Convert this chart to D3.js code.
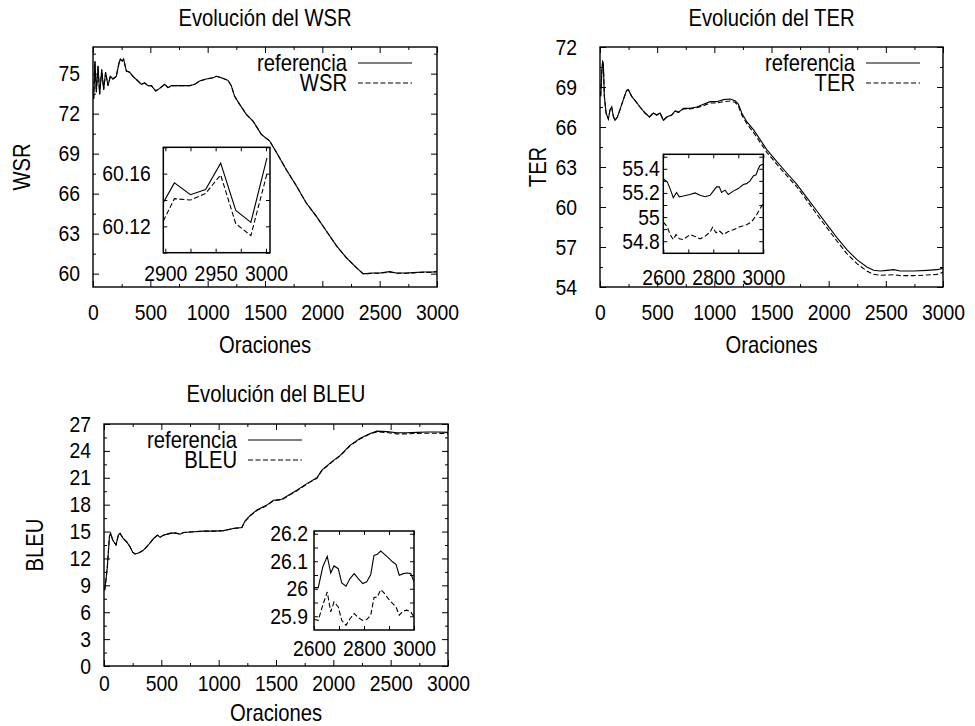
<!DOCTYPE html>
<html>
<head>
<meta charset="utf-8">
<script src="https://cdn.jsdelivr.net/npm/d3@7"></script>
<style>
  html, body { margin: 0; padding: 0; background: #fff; }
  svg { display: block; }
</style>
</head>
<body>
<svg id="chart" width="975" height="726"></svg>
<script>
// ----------------------------
// Data
// ----------------------------
const xTicksMain = [0, 500, 1000, 1500, 2000, 2500, 3000];
const xMinorMain = [250, 750, 1250, 1750, 2250, 2750];

// WSR
const wsrX = [6,17,29,44,58,76,93,110,131,151,174,203,227,238,256,267,291,320,349,392,422,451,480,509,547,581,625,654,683,727,785,843,887,930,988,1047,1076,1119,1177,1206,1235,1279,1337,1395,1468,1541,1599,1686,1773,1860,1948,2035,2122,2209,2297,2355,2384,2442,2500,2587,2645,2733,2791,2878,2965,3000];
const wsrRef = [73.1,75.95,73.6,75.6,73.45,75.3,73.8,75.1,74.1,74.8,74.6,74.8,75.8,76.1,75.95,76.1,75.2,75.1,74.8,74.45,74.2,74.3,74.1,74.1,73.7,73.9,74.2,73.95,74.1,74.1,74.1,74.1,74.2,74.45,74.6,74.7,74.8,74.7,74.5,74.1,73.3,72.7,71.95,71.45,70.45,69.95,69.1,67.8,66.6,65.3,64.3,63.2,62.1,61.2,60.45,60.0,60.0,60.05,60.05,60.15,60.05,60.05,60.08,60.12,60.12,60.17];
const wsrSys = [73.1,75.9,73.6,75.55,73.45,75.3,73.8,75.1,74.1,74.8,74.6,74.8,75.8,76.05,75.95,76.05,75.2,75.1,74.8,74.45,74.2,74.3,74.1,74.1,73.7,73.9,74.2,73.95,74.1,74.1,74.1,74.1,74.2,74.45,74.6,74.7,74.8,74.7,74.5,74.1,73.3,72.7,71.95,71.45,70.45,69.95,69.1,67.8,66.6,65.3,64.3,63.2,62.1,61.2,60.45,60.0,60.0,60.03,60.03,60.13,60.03,60.03,60.06,60.1,60.1,60.15];
const wsrInsetX = [2898,2909,2925,2940,2955,2970,2985,3001];
const wsrInsetRef = [60.138,60.153,60.144,60.148,60.168,60.132,60.123,60.172];
const wsrInsetSys = [60.124,60.141,60.140,60.145,60.159,60.122,60.113,60.160];

// TER
const terX = [6,17,23,29,38,53,73,88,102,117,131,152,175,204,233,248,277,306,350,394,432,467,496,525,554,584,627,657,686,730,788,846,905,963,1021,1080,1138,1182,1211,1240,1284,1342,1401,1459,1547,1634,1722,1809,1897,1984,2072,2159,2247,2334,2393,2451,2510,2568,2626,2743,2860,2947,3000];
const terRef = [68.3,70.3,70.9,70.8,68.3,67.05,66.6,67.3,67.5,66.8,66.5,66.75,67.3,68.05,68.75,68.8,68.3,68.0,67.5,67.05,66.75,67.05,66.9,67.05,66.5,66.75,66.9,67.2,67.1,67.4,67.4,67.5,67.7,67.9,67.9,68.05,68.1,67.97,67.7,67.05,66.4,65.8,65.05,64.3,63.4,62.55,61.7,60.7,59.7,58.7,57.7,56.8,56.05,55.5,55.25,55.2,55.25,55.3,55.2,55.2,55.25,55.3,55.4];
const terSys = [68.3,70.3,70.9,70.8,68.3,67.05,66.6,67.3,67.5,66.8,66.5,66.75,67.3,68.05,68.75,68.8,68.3,68.0,67.5,67.05,66.75,67.05,66.9,67.05,66.5,66.75,66.9,67.2,67.1,67.35,67.35,67.45,67.6,67.8,67.8,67.9,67.95,67.85,67.55,66.9,66.25,65.6,64.85,64.1,63.2,62.35,61.5,60.5,59.45,58.45,57.45,56.5,55.75,55.2,54.95,54.88,54.9,54.92,54.85,54.85,54.9,54.95,55.1];
const terInsetRefX = [2600,2616,2627,2640,2653,2664,2680,2707,2727,2747,2767,2787,2800,2813,2824,2833,2847,2860,2880,2900,2920,2933,2947,2960,2971,2980,2987,3000];
const terInsetRef = [55.318,55.29,55.236,55.16,55.204,55.168,55.174,55.187,55.2,55.18,55.168,55.18,55.215,55.25,55.25,55.204,55.223,55.187,55.215,55.236,55.27,55.277,55.3,55.34,55.35,55.4,55.427,55.44];
const terInsetSysX = [2600,2616,2627,2640,2651,2664,2680,2707,2727,2747,2767,2787,2797,2811,2824,2840,2860,2880,2907,2933,2953,2973,2987,3000];
const terInsetSys = [54.958,54.92,54.855,54.814,54.855,54.82,54.814,54.855,54.84,54.82,54.84,54.876,54.915,54.87,54.887,54.855,54.88,54.895,54.92,54.936,54.96,55.018,55.07,55.11];

// BLEU
const bleuX = [6,17,29,47,58,76,105,125,140,169,198,227,250,271,300,343,387,431,466,489,518,576,620,663,693,780,867,955,1042,1129,1202,1231,1275,1333,1420,1478,1551,1609,1682,1769,1857,1900,1988,2060,2148,2235,2322,2380,2468,2555,2642,2730,2817,2904,3000];
const bleuRef = [8.45,9.6,11.05,14.4,14.8,14.05,13.5,14.6,14.8,14.2,13.85,13.3,12.7,12.5,12.6,12.9,13.5,14.2,14.6,14.35,14.6,14.8,14.85,14.7,14.9,14.97,15.05,15.05,15.1,15.35,15.45,16.2,16.8,17.4,17.95,18.5,18.6,19.05,19.6,20.35,21.0,21.85,22.8,23.5,24.65,25.4,25.95,26.2,26.15,26.03,26.03,26.07,26.1,26.1,26.07];
const bleuSys = [8.45,9.6,11.05,14.4,14.8,14.05,13.5,14.6,14.8,14.2,13.85,13.3,12.7,12.5,12.6,12.9,13.5,14.2,14.6,14.35,14.6,14.8,14.85,14.7,14.9,14.97,15.05,15.05,15.1,15.35,15.45,16.15,16.75,17.35,17.9,18.45,18.55,19.0,19.55,20.3,20.95,21.8,22.75,23.45,24.6,25.35,25.9,26.12,26.05,25.9,25.9,25.95,25.97,25.96,25.92];
const bleuInsetX = [2600,2617,2635,2653,2667,2680,2697,2711,2728,2744,2761,2777,2795,2811,2827,2840,2853,2867,2880,2897,2915,2928,2941,2957,2971,2987,3000];
const bleuInsetRef = [26.004,26.004,26.079,26.118,26.057,26.083,26.073,26.021,26.009,26.037,26.055,26.037,26.019,26.025,26.052,26.121,26.125,26.137,26.127,26.113,26.097,26.089,26.049,26.055,26.057,26.055,26.025];
const bleuInsetSys = [25.888,25.885,25.94,25.988,25.916,25.952,25.934,25.885,25.867,25.891,25.91,25.895,25.885,25.888,25.904,25.968,25.97,25.997,25.985,25.964,25.946,25.934,25.904,25.919,25.922,25.916,25.898];

// ----------------------------
// Style
// ----------------------------
const FONT = "'Liberation Sans', Arial, Helvetica, sans-serif";
const SX = 0.88;        // text in the reference is a bit condensed
const TICK_FS = 22;
const LAB_FS = 23;
const DASH = "5,2.5";

const svg = d3.select("#chart");
svg.append("rect").attr("width", 975).attr("height", 726).attr("fill", "#fff");

let clipId = 0;

function label(x, y, s, anchor, rot) {
  svg.append("text")
    .attr("transform", `translate(${x},${y})${rot ? " rotate(-90)" : ""} scale(${SX},1)`)
    .attr("text-anchor", anchor)
    .attr("dy", "0.36em")
    .attr("font-family", FONT)
    .attr("font-size", LAB_FS)
    .attr("fill", "#000")
    .text(s);
}

function styleAxis(sel, pad, left) {
  sel.select(".domain").remove();
  sel.attr("font-family", FONT).attr("font-size", TICK_FS);
  sel.selectAll("line").attr("stroke", "#000").attr("stroke-width", 1);
  sel.selectAll("text").attr("fill", "#000").attr("transform", `scale(${SX},1)`);
  if (left) sel.selectAll("text").attr("x", -pad / SX);
}

// ticks pointing inward on all four sides, labels on bottom and left
function frameTicks(g, x, y, w, h, t) {
  const fmtX = d => String(d);
  const fmtY = t.fmtY || (d => String(d));
  g.append("g").attr("transform", `translate(0,${h})`)
    .call(d3.axisBottom(x).tickValues(t.xt).tickSizeInner(-t.len).tickSizeOuter(0).tickPadding(t.xpad).tickFormat(fmtX))
    .call(s => styleAxis(s, t.xpad, false));
  g.append("g").attr("transform", `translate(0,${h})`)
    .call(d3.axisBottom(x).tickValues(t.xm).tickSizeInner(-t.mlen).tickSizeOuter(0).tickFormat(""))
    .call(s => styleAxis(s, 0, false));
  g.append("g")
    .call(d3.axisTop(x).tickValues(t.xt).tickSizeInner(-t.len).tickSizeOuter(0).tickFormat(""))
    .call(s => styleAxis(s, 0, false));
  g.append("g")
    .call(d3.axisTop(x).tickValues(t.xm).tickSizeInner(-t.mlen).tickSizeOuter(0).tickFormat(""))
    .call(s => styleAxis(s, 0, false));

  g.append("g")
    .call(d3.axisLeft(y).tickValues(t.yt).tickSizeInner(-t.len).tickSizeOuter(0).tickPadding(t.ypad).tickFormat(fmtY))
    .call(s => styleAxis(s, t.ypad, true));
  g.append("g")
    .call(d3.axisLeft(y).tickValues(t.ym).tickSizeInner(-t.mlen).tickSizeOuter(0).tickFormat(""))
    .call(s => styleAxis(s, 0, false));
  g.append("g").attr("transform", `translate(${w},0)`)
    .call(d3.axisRight(y).tickValues(t.yt).tickSizeInner(-t.len).tickSizeOuter(0).tickFormat(""))
    .call(s => styleAxis(s, 0, false));
  g.append("g").attr("transform", `translate(${w},0)`)
    .call(d3.axisRight(y).tickValues(t.ym).tickSizeInner(-t.mlen).tickSizeOuter(0).tickFormat(""))
    .call(s => styleAxis(s, 0, false));
}

function drawSeries(g, x, y, w, h, series) {
  const id = "clip" + (clipId++);
  g.append("clipPath").attr("id", id)
    .append("rect").attr("width", w).attr("height", h);
  series.forEach(s => {
    g.append("path")
      .datum(s.ys)
      .attr("clip-path", `url(#${id})`)
      .attr("fill", "none")
      .attr("stroke", "#000")
      .attr("stroke-width", 1.1)
      .attr("stroke-dasharray", s.dashed ? DASH : null)
      .attr("d", d3.line().x((d, i) => x(s.xs[i])).y(d => y(d)));
  });
}

function drawPanel(p) {
  const g = svg.append("g").attr("transform", `translate(${p.left},${p.top})`);
  const x = d3.scaleLinear().domain([0, 3000]).range([0, p.w]);
  const y = d3.scaleLinear().domain(p.ydom).range([p.h, 0]);

  drawSeries(g, x, y, p.w, p.h, p.series);

  frameTicks(g, x, y, p.w, p.h, {
    xt: xTicksMain, xm: xMinorMain, yt: p.yt, ym: p.ym,
    len: 6, mlen: 3, xpad: p.xpad, ypad: p.ypad
  });

  // legend
  p.series.forEach((s, i) => {
    const ly = p.legend.y + i * 20;
    g.append("text")
      .attr("transform", `translate(${p.legend.x},${ly}) scale(${SX},1)`)
      .attr("text-anchor", "end").attr("dy", "0.36em")
      .attr("font-family", FONT).attr("font-size", LAB_FS).attr("fill", "#000")
      .text(s.name);
    g.append("line")
      .attr("x1", p.legend.x + 11).attr("x2", p.legend.x + 65)
      .attr("y1", ly).attr("y2", ly)
      .attr("stroke", "#000").attr("stroke-width", 1.1)
      .attr("stroke-dasharray", s.dashed ? DASH : null);
  });

  // inset
  const q = p.inset;
  const ig = g.append("g").attr("transform", `translate(${q.left - p.left},${q.top - p.top})`);
  const ix = d3.scaleLinear().domain(q.xdom).range([0, q.w]);
  const iy = d3.scaleLinear().domain(q.ydom).range([q.h, 0]);
  ig.append("rect").attr("width", q.w).attr("height", q.h).attr("fill", "#fff");
  drawSeries(ig, ix, iy, q.w, q.h, q.series);
  frameTicks(ig, ix, iy, q.w, q.h, {
    xt: q.xt, xm: q.xm, yt: q.yt, ym: q.ym,
    len: 4, mlen: 4, xpad: q.xpad, ypad: q.ypad, fmtY: q.fmtY
  });
  ig.append("rect").attr("width", q.w).attr("height", q.h)
    .attr("fill", "none").attr("stroke", "#000").attr("stroke-width", 1.5);

  // frame
  g.append("rect").attr("width", p.w).attr("height", p.h)
    .attr("fill", "none").attr("stroke", "#000").attr("stroke-width", 1.4);

  label(p.left + p.w / 2, p.titleY, p.title, "middle");
  label(p.left + p.w / 2, p.xlabY, "Oraciones", "middle");
  label(p.ylabX, p.top + p.h / 2, p.ylab, "middle", true);
}

const fmtNum = d => String(+d.toFixed(2));

drawPanel({
  title: "Evolución del WSR", ylab: "WSR",
  left: 93, top: 47, w: 344, h: 240,
  ydom: [59, 77], yt: d3.range(60, 76, 3), ym: d3.range(61.5, 77, 3),
  xpad: 17, ypad: 13, titleY: 18, xlabY: 345, ylabX: 22,
  legend: { x: 254, y: 16 },
  series: [
    { name: "referencia", xs: wsrX, ys: wsrRef, dashed: false },
    { name: "WSR", xs: wsrX, ys: wsrSys, dashed: true }
  ],
  inset: {
    left: 163.3, top: 147.3, w: 106.7, h: 105.4,
    xdom: [2898, 3004], ydom: [60.10, 60.18],
    xt: [2900, 2950, 3000], xm: [2925, 2975],
    yt: [60.12, 60.16], ym: [60.10, 60.14, 60.18],
    xpad: 13, ypad: 12.5, fmtY: d => d.toFixed(2),
    series: [
      { xs: wsrInsetX, ys: wsrInsetRef, dashed: false },
      { xs: wsrInsetX, ys: wsrInsetSys, dashed: true }
    ]
  }
});

drawPanel({
  title: "Evolución del TER", ylab: "TER",
  left: 600, top: 47, w: 343, h: 240,
  ydom: [54, 72], yt: d3.range(54, 73, 3), ym: d3.range(55.5, 72, 3),
  xpad: 17, ypad: 23, titleY: 18, xlabY: 345, ylabX: 538,
  legend: { x: 255, y: 16 },
  series: [
    { name: "referencia", xs: terX, ys: terRef, dashed: false },
    { name: "TER", xs: terX, ys: terSys, dashed: true }
  ],
  inset: {
    left: 663.3, top: 154.3, w: 100, h: 99,
    xdom: [2600, 3000], ydom: [54.7, 55.52],
    xt: [2600, 2800, 3000], xm: [2700, 2900],
    yt: [54.8, 55, 55.2, 55.4], ym: [54.9, 55.1, 55.3, 55.5],
    xpad: 16, ypad: 3.5, fmtY: fmtNum,
    series: [
      { xs: terInsetRefX, ys: terInsetRef, dashed: false },
      { xs: terInsetSysX, ys: terInsetSys, dashed: true }
    ]
  }
});

drawPanel({
  title: "Evolución del BLEU", ylab: "BLEU",
  left: 104, top: 424, w: 344, h: 242,
  ydom: [0, 27], yt: d3.range(0, 28, 3), ym: d3.range(1.5, 27, 3),
  xpad: 9, ypad: 13, titleY: 394, xlabY: 713, ylabX: 35,
  legend: { x: 133, y: 16 },
  series: [
    { name: "referencia", xs: bleuX, ys: bleuRef, dashed: false },
    { name: "BLEU", xs: bleuX, ys: bleuSys, dashed: true }
  ],
  inset: {
    left: 314, top: 531, w: 100, h: 99,
    xdom: [2600, 3000], ydom: [25.85, 26.21],
    xt: [2600, 2800, 3000], xm: [2700, 2900],
    yt: [25.9, 26, 26.1, 26.2], ym: [25.95, 26.05, 26.15],
    xpad: 10, ypad: 6, fmtY: fmtNum,
    series: [
      { xs: bleuInsetX, ys: bleuInsetRef, dashed: false },
      { xs: bleuInsetX, ys: bleuInsetSys, dashed: true }
    ]
  }
});
</script>
</body>
</html>
